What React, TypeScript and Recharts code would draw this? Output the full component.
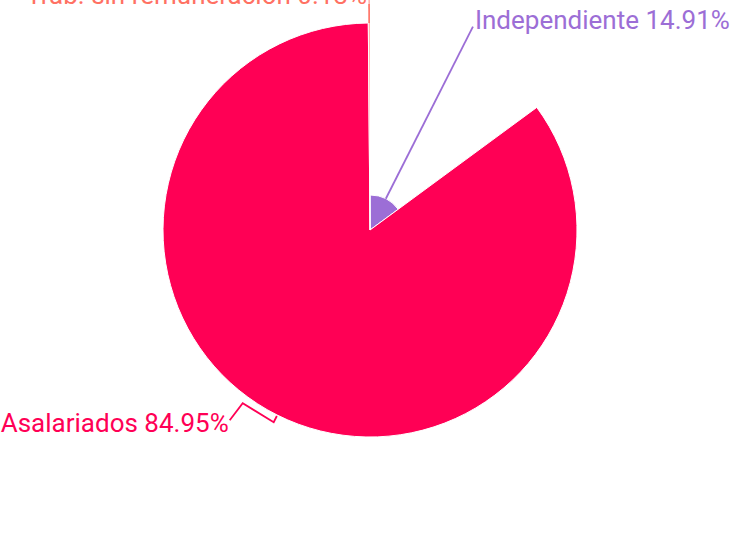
import { Cell, Pie, PieChart } from "recharts";

const categories = ["Independiente", "Asalariados", "Trab. sin remuneración"];
const shares = [14.91, 84.95, 0.13];
const colors = ["#9c6ed6", "#ff0055", "#ff7163"];
const radii = [35, 207, 236];

const data = categories.map((name, i) => ({ name, value: shares[i] }));

const RADIAN = Math.PI / 180;
const FONT = "Roboto, sans-serif";

function polar(cx: number, cy: number, r: number, angle: number) {
	return {
		x: cx + r * Math.cos(-angle * RADIAN),
		y: cy + r * Math.sin(-angle * RADIAN),
	};
}

function makeLabel(target: number) {
	return (props: any) => {
		const { cx, cy, midAngle, outerRadius, index, value, name } = props;
		if (index !== target) return null;
		const color = colors[index];
		const text = `${name} ${Number(value).toFixed(2)}%`;

		if (index === 0) {
			const a = polar(cx, cy, outerRadius, midAngle);
			const b = polar(cx, cy, 228, midAngle);
			return (
				<g>
					<polyline points={`${a.x},${a.y} ${b.x},${b.y}`} stroke={color} strokeWidth={1.8} fill="none" />
					<text x={b.x + 2} y={b.y + 2} fill={color} fontSize={26} fontFamily={FONT} textAnchor="start">
						{text}
					</text>
				</g>
			);
		}
		if (index === 1) {
			const a = polar(cx, cy, outerRadius + 1, midAngle);
			const b = polar(cx, cy, outerRadius + 8, midAngle);
			const c = { x: b.x - 31, y: b.y - 19 };
			const d = { x: c.x - 13, y: c.y + 17 };
			return (
				<g>
					<polyline
						points={`${a.x},${a.y} ${b.x},${b.y} ${c.x},${c.y} ${d.x},${d.y}`}
						stroke={color}
						strokeWidth={1.8}
						fill="none"
					/>
					<text x={d.x - 1} y={d.y + 12} fill={color} fontSize={26} fontFamily={FONT} textAnchor="end">
						{text}
					</text>
				</g>
			);
		}
		const a = polar(cx, cy, 207, midAngle);
		const b = polar(cx, cy, 226, midAngle);
		return (
			<g>
				<polyline points={`${a.x},${a.y} ${b.x},${b.y}`} stroke={color} strokeWidth={1.5} fill="none" />
				<text x={b.x - 2} y={b.y} fill={color} fontSize={26} fontFamily={FONT} textAnchor="end">
					{text}
				</text>
			</g>
		);
	};
}

export default function App() {
	return (
		<div style={{ position: "absolute", left: 0, top: 0, width: 730, height: 553, background: "#fff" }}>
			<PieChart width={730} height={553} margin={{ top: 0, right: 0, bottom: 0, left: 0 }}>
				{categories.map((cat, k) => (
					<Pie
						key={cat}
						data={data}
						dataKey="value"
						nameKey="name"
						cx={370}
						cy={230}
						innerRadius={0}
						outerRadius={radii[k]}
						startAngle={90}
						endAngle={-270}
						label={makeLabel(k)}
						labelLine={false}
						isAnimationActive={false}
					>
						{data.map((d, i) => (
							<Cell
								key={d.name}
								fill={i === k ? colors[i] : "none"}
								stroke={i === k ? "#ffffff" : "none"}
								strokeWidth={1}
							/>
						))}
					</Pie>
				))}
			</PieChart>
		</div>
	);
}
